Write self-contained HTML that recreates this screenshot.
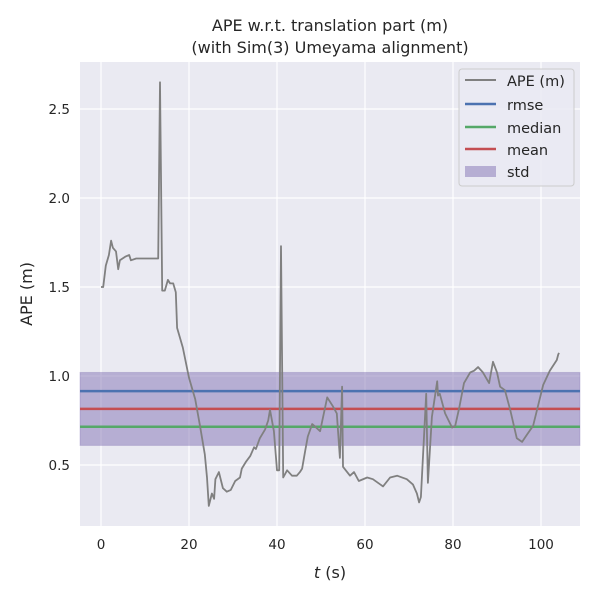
<!DOCTYPE html>
<html><head><meta charset="utf-8"><style>
body{margin:0;background:#fff;}
svg text{font-family:"DejaVu Sans","Liberation Sans",sans-serif;fill:#262626;}
</style></head><body>
<svg id="chart" width="600" height="600" xmlns="http://www.w3.org/2000/svg">
<rect x="0" y="0" width="600" height="600" fill="#fff"/>
<rect x="80" y="62" width="500" height="464" fill="#eaeaf2"/>
<g id="grid"></g>
<g id="band"></g>
<g id="stats"></g>
<g id="series"></g>
<g id="ticks"></g>
<text x="330" y="31" text-anchor="middle" font-size="16">APE w.r.t. translation part (m)</text>
<text x="330" y="53" text-anchor="middle" font-size="16">(with Sim(3) Umeyama alignment)</text>
<text x="330" y="578" text-anchor="middle" font-size="16"><tspan font-style="italic">t</tspan> (s)</text>
<text transform="translate(32,294) rotate(-90)" text-anchor="middle" font-size="16">APE (m)</text>
<g>
<rect x="459" y="69" width="115" height="117" rx="3" fill="#eaeaf2" fill-opacity="0.8" stroke="#cccccc"/>
<g><line x1="465" y1="80" x2="496" y2="80" stroke="#808080" stroke-width="2"/><text x="507" y="86" font-size="14.5">APE (m)</text></g>
<g><line x1="465" y1="104" x2="496" y2="104" stroke="#4c72b0" stroke-width="2.5"/><text x="507" y="110" font-size="14.5">rmse</text></g>
<g><line x1="465" y1="127" x2="496" y2="127" stroke="#55a868" stroke-width="2.5"/><text x="507" y="133" font-size="14.5">median</text></g>
<g><line x1="465" y1="149" x2="496" y2="149" stroke="#c44e52" stroke-width="2.5"/><text x="507" y="155" font-size="14.5">mean</text></g>
<g><rect x="465" y="166" width="31" height="11" fill="#8172b3" fill-opacity="0.5"/><text x="507" y="177" font-size="14.5">std</text></g>
</g>
</svg>
<script>
const times=[0,0.5,1.1,1.8,2.3,2.7,3.4,3.9,4.3,5.5,6.4,6.8,8,10,13,13.4,13.9,14.5,15.2,15.7,16.4,17,17.3,18.6,20,21.4,22.5,23.6,24.1,24.5,25.2,25.7,26,26.8,27.7,28.6,29.5,30.5,31.6,32,33,33.9,34.8,35.2,36.1,37.3,38,38.4,39.3,40,40.5,40.9,41.4,42.3,43.4,44.5,45.2,45.7,46.4,47,48,48.9,49.8,51.4,52.7,53.6,54.3,54.8,55,56.6,57.5,58.6,60.5,61.8,64.1,65.7,67.3,69.5,70.9,71.8,72.3,72.7,73.9,74.3,75.2,76.4,76.6,77,78.2,79.8,80.5,81.4,82.5,83.9,84.8,85.7,86.8,88.2,89.1,90,90.7,91.8,93,94.5,95.7,96.8,98.2,99.3,100.5,102,103.6,103.9,104.1];
const apeValues=[1.50,1.50,1.62,1.68,1.76,1.72,1.70,1.60,1.65,1.67,1.68,1.65,1.66,1.66,1.66,2.65,1.48,1.48,1.54,1.52,1.52,1.47,1.27,1.16,0.99,0.87,0.72,0.56,0.43,0.27,0.34,0.31,0.42,0.46,0.37,0.35,0.36,0.41,0.43,0.48,0.52,0.55,0.60,0.59,0.65,0.70,0.75,0.81,0.69,0.47,0.47,1.73,0.43,0.47,0.44,0.44,0.46,0.48,0.58,0.66,0.73,0.71,0.69,0.88,0.83,0.79,0.54,0.94,0.49,0.44,0.46,0.41,0.43,0.42,0.38,0.43,0.44,0.42,0.39,0.34,0.29,0.32,0.90,0.40,0.77,0.97,0.89,0.90,0.79,0.71,0.72,0.82,0.96,1.02,1.03,1.05,1.02,0.96,1.08,1.02,0.94,0.92,0.81,0.65,0.63,0.67,0.72,0.83,0.95,1.03,1.09,1.12,1.13];
const statNames=["rmse","median","mean"];
const statValues=[0.915,0.715,0.815];
const stdRange=[0.61,1.02];
const xTicks=[0,20,40,60,80,100];
const yTicks=[0.5,1.0,1.5,2.0,2.5];
const yTickLabels=["0.5","1.0","1.5","2.0","2.5"];
const statColors=["#4c72b0","#55a868","#c44e52"];
const NS="http://www.w3.org/2000/svg";
function xs(t){return 101+t*4.4;}
function ys(v){return 376-(v-1.0)*178;}
function mk(tag,attrs,parent){const e=document.createElementNS(NS,tag);for(const k in attrs)e.setAttribute(k,attrs[k]);document.getElementById(parent).appendChild(e);return e;}
xTicks.forEach(t=>{
  const l=mk('line',{x1:xs(t),x2:xs(t),y1:62,y2:526,stroke:'#fff','stroke-width':1.2},'grid');
  
  
  const tx=mk('text',{x:xs(t),y:549,'text-anchor':'middle','font-size':13.5},'ticks');
  tx.textContent=String(t);
  
  
});
yTicks.forEach((v,i)=>{
  const l=mk('line',{x1:80,x2:580,y1:ys(v),y2:ys(v),stroke:'#fff','stroke-width':1.2},'grid');
  
  
  const tx=mk('text',{x:70,y:ys(v)+5,'text-anchor':'end','font-size':13.5},'ticks');
  tx.textContent=yTickLabels[i];
  
  
});
const b=mk('rect',{x:80,y:ys(stdRange[1]),width:500,height:ys(stdRange[0])-ys(stdRange[1]),fill:'#8172b3','fill-opacity':0.5,stroke:'#8172b3','stroke-opacity':0.3},'band');


statValues.forEach((v,i)=>{
  const l=mk('line',{x1:80,x2:580,y1:ys(v),y2:ys(v),stroke:statColors[i],'stroke-width':2.5},'stats');
  
  
});
let d=times.map((t,i)=>(i?'L':'M')+xs(t).toFixed(1)+','+ys(apeValues[i]).toFixed(1)).join(' ');
const p=mk('path',{d:d,fill:'none',stroke:'#808080','stroke-width':1.8,'stroke-linejoin':'round'},'series');


</script>
</body></html>
